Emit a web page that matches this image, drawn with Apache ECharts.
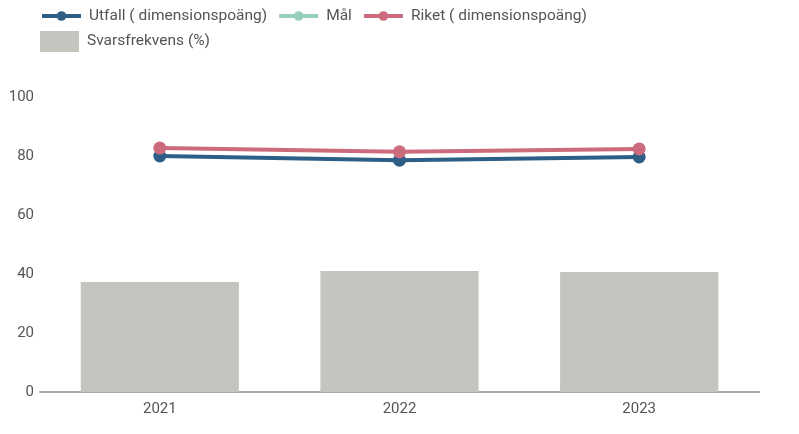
<!DOCTYPE html>
<html><head><meta charset="utf-8">
<script src="https://cdn.jsdelivr.net/npm/echarts@6/dist/echarts.min.js"></script>
<style>html,body{margin:0;padding:0;background:#fff}#c{width:799px;height:434px}</style>
</head><body><div id="c"></div>
<script>
const categories = ['2021', '2022', '2023'];
const utfall = [80.0, 78.6, 79.7];
const mal = [null, null, null];
const riket = [82.7, 81.4, 82.4];
const svarsfrekvens = [37.3, 41.0, 40.7];
const yTicks = { min: 0, max: 100, interval: 20 };

const legendText = { fontSize: 15.5, color: '#555', fontFamily: 'Roboto', padding: [0, 0, 0, 3] };
const chart = echarts.init(document.getElementById('c'));
chart.setOption({
  animation: false,
  textStyle: { fontFamily: 'Roboto' },
  legend: [{
    left: 40, top: 8, padding: 0,
    itemWidth: 39, itemHeight: 12, itemGap: 10,
    lineStyle: { width: 4 },
    textStyle: legendText,
    data: ['Utfall ( dimensionspoäng)', 'Mål', 'Riket ( dimensionspoäng)']
  }, {
    left: 40, top: 31, padding: 0,
    itemWidth: 39, itemHeight: 21,
    textStyle: legendText,
    data: [{ name: 'Svarsfrekvens (%)', icon: 'rect' }]
  }],
  grid: { left: 40, right: 40, top: 97, bottom: 42 },
  xAxis: {
    type: 'category', data: categories,
    axisTick: { show: false },
    axisLine: { lineStyle: { color: '#aaa', width: 2 } },
    axisLabel: { color: '#555', fontSize: 15, margin: 10 }
  },
  yAxis: {
    type: 'value', min: yTicks.min, max: yTicks.max, interval: yTicks.interval,
    splitLine: { show: false },
    axisLabel: { color: '#555', fontSize: 15, margin: 6 }
  },
  series: [
    { name: 'Svarsfrekvens (%)', type: 'bar', data: svarsfrekvens, barWidth: '66%',
      itemStyle: { color: '#c5c5c0' }, z: 1 },
    { name: 'Utfall ( dimensionspoäng)', type: 'line', data: utfall, symbol: 'circle', symbolSize: 13,
      itemStyle: { color: '#2d5f86' }, lineStyle: { width: 4, color: '#2d5f86' }, z: 3 },
    { name: 'Mål', type: 'line', data: mal, symbol: 'circle', symbolSize: 13,
      itemStyle: { color: '#96cfc0' }, lineStyle: { width: 4, color: '#96cfc0' } },
    { name: 'Riket ( dimensionspoäng)', type: 'line', data: riket, symbol: 'circle', symbolSize: 13,
      itemStyle: { color: '#cc6b7b' }, lineStyle: { width: 4, color: '#cc6b7b' }, z: 4 }
  ]
});
</script></body></html>
